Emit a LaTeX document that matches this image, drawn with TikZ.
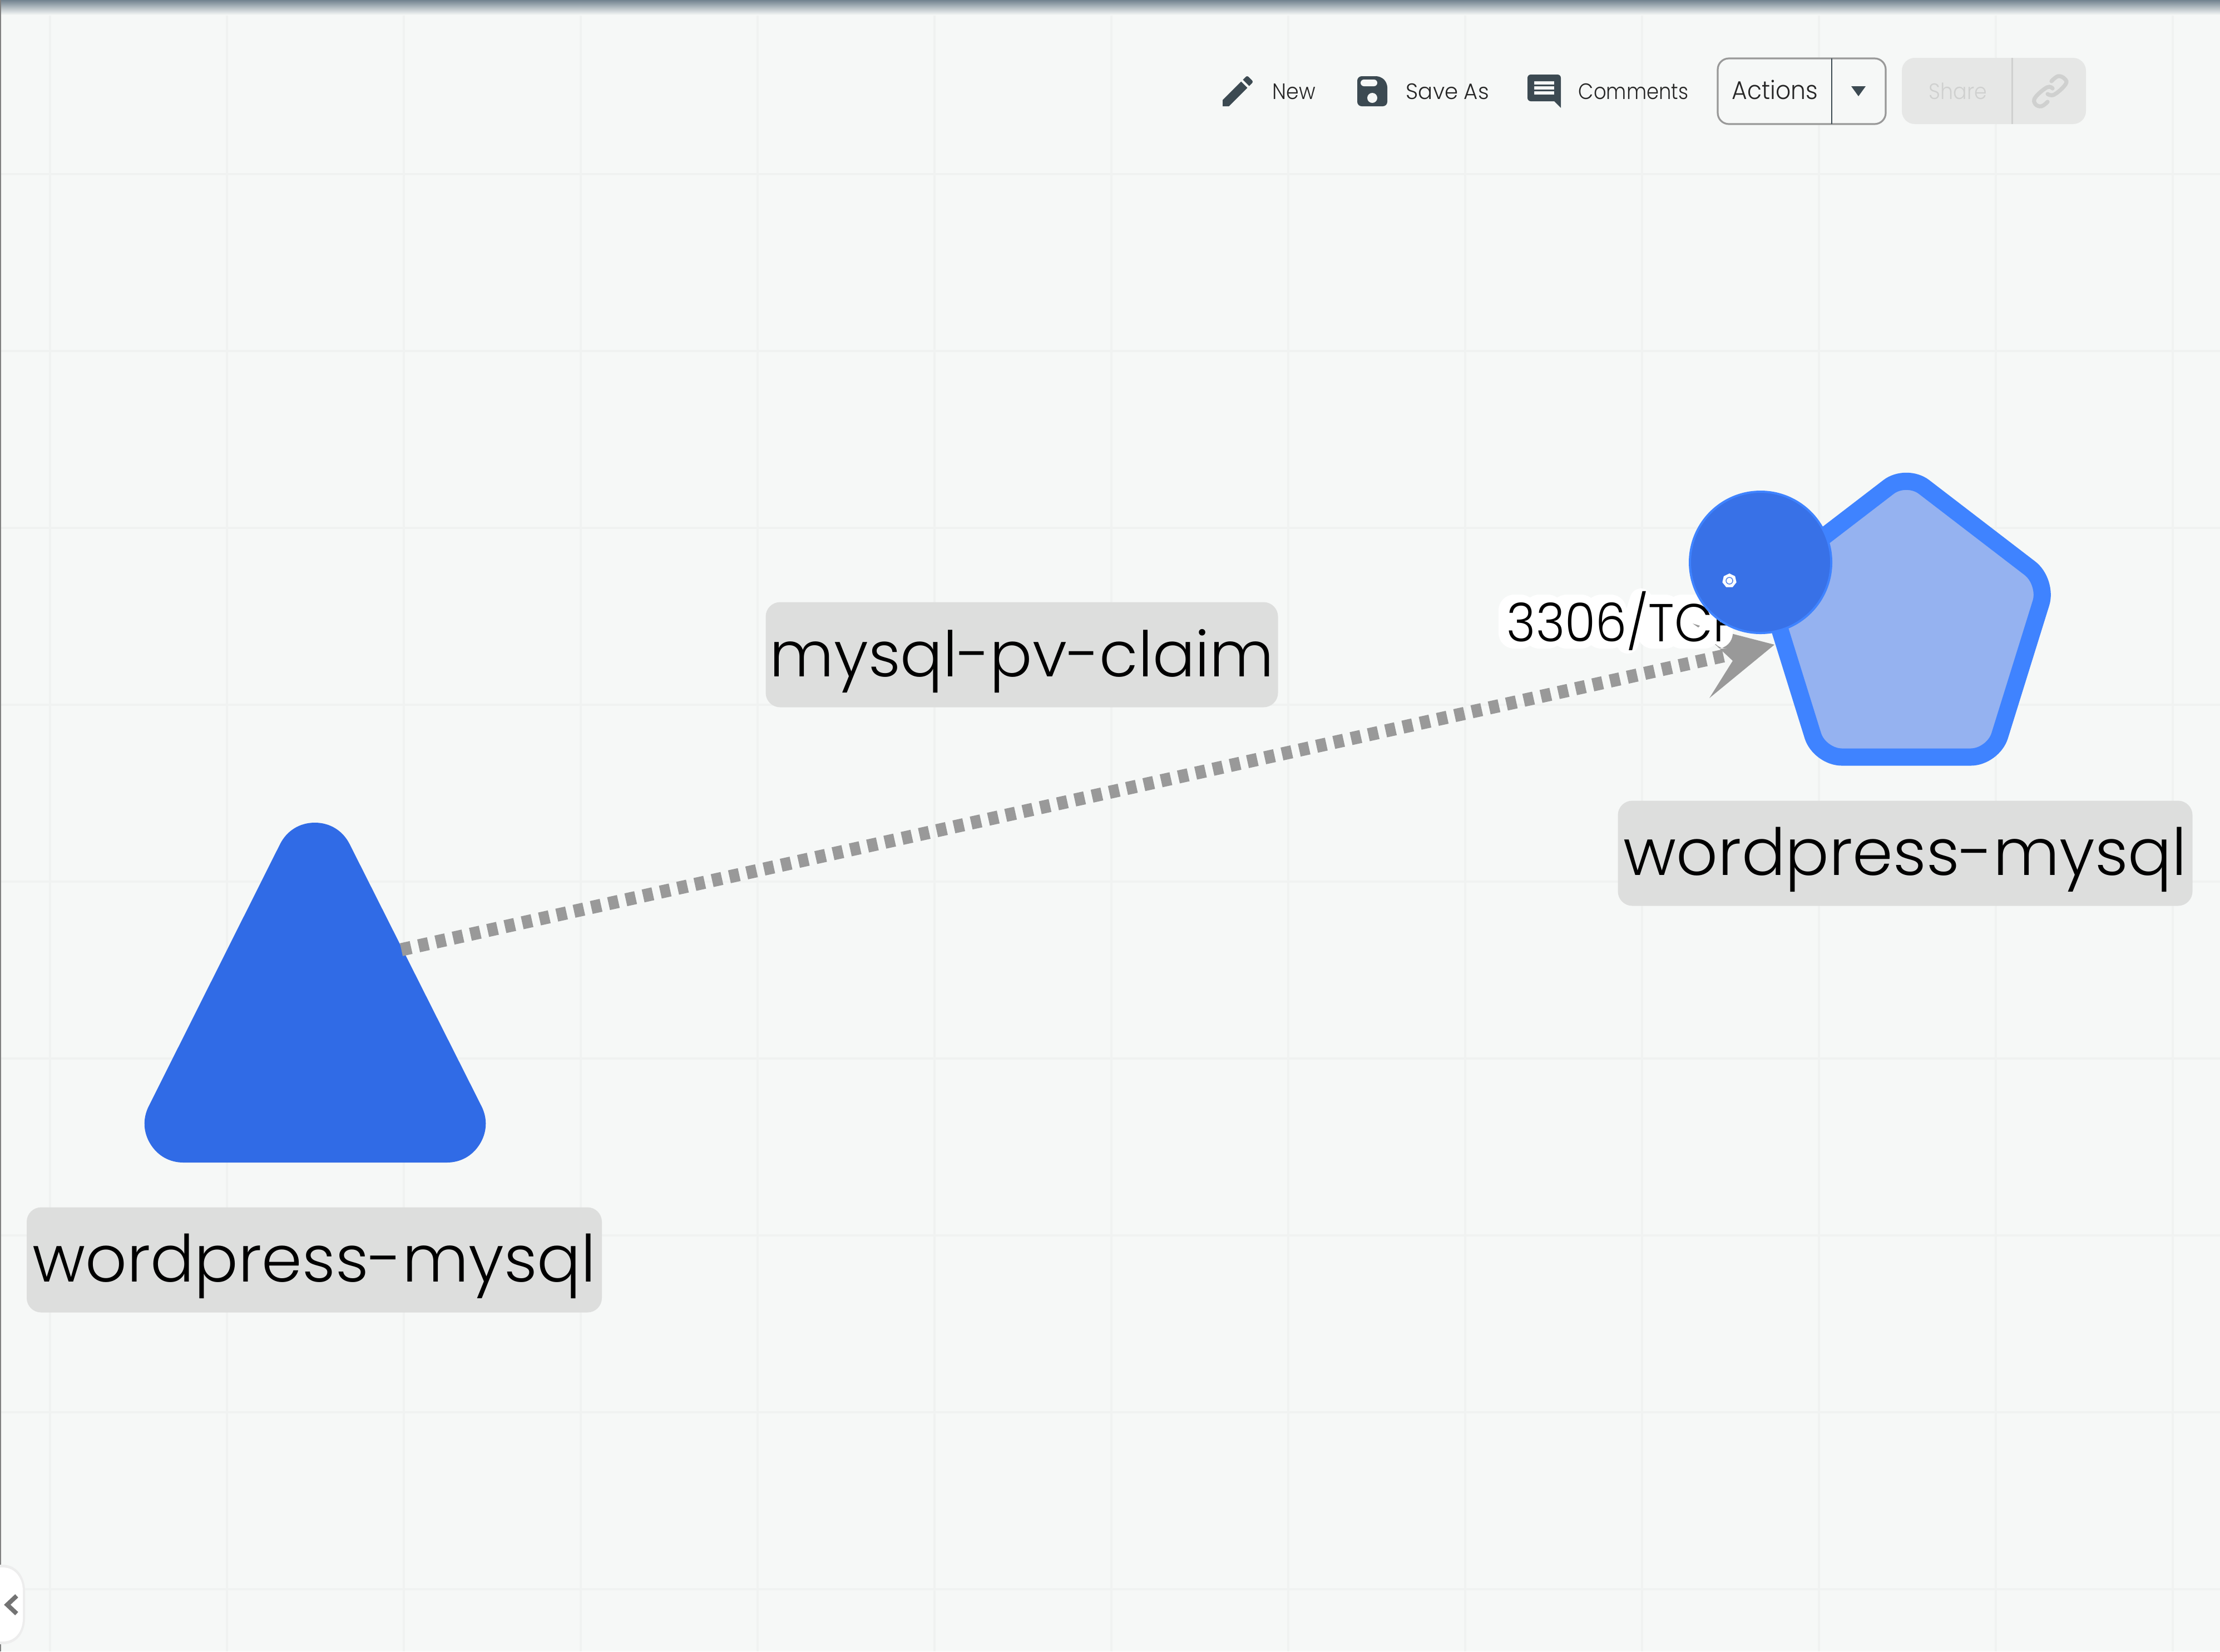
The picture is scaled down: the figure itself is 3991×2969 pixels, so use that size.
\documentclass[tikz,border=0pt]{standalone}
\usepackage{graphicx}
\usepackage{fontspec}
\setmainfont{Poppins}
\newfontfamily\thinfont{Poppins Light}
\usetikzlibrary{shapes.geometric}
\definecolor{bgc}{HTML}{F6F8F7}
\definecolor{gridc}{HTML}{F0F2F1}
\definecolor{blued}{HTML}{306BE6}
\definecolor{bluee}{HTML}{3F83FF}
\definecolor{bluef}{HTML}{95B2F0}
\definecolor{labelc}{HTML}{DDDEDD}
\definecolor{edgec}{HTML}{999999}
\definecolor{iconc}{HTML}{3C4A52}
\definecolor{disc}{HTML}{CFD0CF}
\definecolor{shadec}{HTML}{71828E}
\definecolor{sharec}{HTML}{E6E7E6}
\tikzset{
  x=0.25pt,y=-0.25pt,
  gridline/.style={gridc,line width=1pt},
  namebox/.style={fill=labelc,rounded corners=6.5pt,inner sep=0pt,text=black,text height=33.5pt,text depth=13.75pt,font=\thinfont\fontsize{29.2}{29.2}\selectfont},
  toolitem/.style={anchor=base west,inner sep=0pt,text=black!85,font=\thinfont\fontsize{10}{10}\selectfont},
  portlabel/.style={anchor=base west,inner sep=0pt,text=black,font=\thinfont\fontsize{24}{24}\selectfont},
}
\begin{document}
\begin{tikzpicture}
\useasboundingbox (0,0) rectangle (3991,2969);
\fill[bgc] (0,0) rectangle (3991,2969);
% grid
\foreach \i in {0,...,12} \draw[gridline] ({90+318*\i},0) -- ({90+318*\i},2969);
\foreach \j in {0,...,8} \draw[gridline] (0,{313+318*\j}) -- (3991,{313+318*\j});
% top shade and left edge
\shade[top color=shadec,bottom color=bgc,draw=none] (0,0) rectangle (3991,27);
\fill[gray] (0,0) rectangle (2,2969);
% toolbar icons
\begin{scope}[shift={(2189,128)},scale=3]
\fill[iconc] (3,17.25) -- (3,21) -- (6.75,21) -- (17.81,9.94) -- (14.06,6.19) -- cycle;
\fill[iconc] (20.71,7.04) .. controls (21.1,6.65) and (21.1,6.02) .. (20.71,5.63) -- (18.37,3.29) .. controls (17.98,2.9) and (17.35,2.9) .. (16.96,3.29) -- (15.13,5.12) -- (18.88,8.87) -- cycle;
\end{scope}
\fill[iconc,rounded corners=2pt] (2440,137) -- (2482,137) -- (2494,149) -- (2494,191) -- (2440,191) -- cycle;
\fill[bgc,rounded corners=1.5pt] (2446,143) rectangle (2476,155);
\fill[bgc] (2467,176) circle[radius=9];
\begin{scope}[shift={(2740,128)},scale=3]
\fill[iconc,even odd rule] (4,2) -- (20,2) .. controls (21.1,2) and (22,2.9) .. (22,4) -- (22,22) -- (18,18) -- (4,18) .. controls (2.9,18) and (2,17.1) .. (2,16) -- (2,4) .. controls (2,2.9) and (2.9,2) .. (4,2) -- cycle
  (6,6) rectangle (18,8) (6,9) rectangle (18,11) (6,12) rectangle (18,14);
\end{scope}
\node[toolitem] (tnew) at (2287,178) {\scalebox{0.91}[1]{New}};
\node[toolitem] (tsave) at (2527,178) {\scalebox{0.967}[1]{Save As}};
\node[toolitem] (tcomm) at (2837,178) {\scalebox{0.886}[1]{Comments}};
% actions button
\draw[line width=0.8pt,draw=black!40,fill=bgc,rounded corners=5pt] (3088,105) rectangle (3390,223);
\draw[iconc,line width=0.6pt] (3293,105) -- (3293,223);
\node[toolitem,font=\thinfont\fontsize{11.5}{11.5}\selectfont] (tact) at (3113,178) {\scalebox{0.924}[1]{Actions}};
\fill[iconc] (3328,155) -- (3354,155) -- (3341,173) -- cycle;
% share button
\fill[sharec,rounded corners=5.8pt] (3419,104) rectangle (3750,223);
\draw[disc,line width=0.75pt] (3617,104) -- (3617,223);
\node[toolitem,text=disc] (tshare) at (3467,178) {\scalebox{0.91}[1]{Share}};
\draw[disc,line width=1.8pt,line cap=round] plot[smooth,tension=0.7] coordinates {(3688,146) (3700,137) (3712,142) (3713,152) (3693,170) (3681,169)};
\draw[disc,line width=1.8pt,line cap=round] plot[smooth,tension=0.7] coordinates {(3690,159) (3680,157) (3659,175) (3659,187) (3670,191) (3681,183)};
% triangle
\fill[blued,draw=blued,line width=35pt,line join=round] (566,1549) -- (803,2020) -- (330,2020) -- cycle;
\node[namebox,minimum width=1034*0.25pt,minimum height=189*0.25pt] (lbA) at (565,2265) {wordpress-mysql};
% middle label
\node[namebox,minimum width=921*0.25pt,minimum height=189*0.25pt,font=\thinfont\fontsize{28.3}{28.3}\selectfont] (lbB) at (1837,1177) {mysql-pv-claim};
% pentagon
\draw[bluee,fill=bluef,line width=7.75pt,rounded corners=10pt,line join=round] (3427,851) -- (3681,1046) -- (3583,1361) -- (3271,1361) -- (3173,1046) -- cycle;
\node[namebox,minimum width=1033*0.25pt,minimum height=189*0.25pt] (lbC) at (3425,1534) {wordpress-mysql};
% edge
\coordinate (edgeA) at (721.5,1707.3);
\coordinate (edgeB) at (3098.8,1179);
\draw[edgec,line width=5.9pt,dash pattern=on 4.5pt off 3.45pt] (edgeA) -- (edgeB);
\fill[edgec] (3190,1159) -- (3073,1255) -- (3115,1188) -- (3043,1121) -- cycle;
% edge label halo
\foreach \xa/\xb in {2710/2748,2755/2797,2804/2857,2866/2910,2959/3008,3011/3078,3092/3101}
  \fill[white,rounded corners=7pt] ({\xa-16},1069) rectangle ({\xb+14},1166);
\draw[white,line width=10pt,line cap=round] (2926,1155) -- (2950,1078);
\fill[edgec] (3043,1121) -- (3056,1125) -- (3053,1128) -- cycle;
\node[portlabel] (port) at (2708,1153) {\scalebox{0.93}[1]{3306/TCP}};
% circle
\fill[blued!96!white,draw=bluee,line width=1pt] (3165,1011) circle[radius=127];
\node[regular polygon,regular polygon sides=7,fill=white,inner sep=0pt,minimum size=6.5pt] (kube) at (3109,1044) {};
\draw[blued!80!white,line width=0.4pt] (kube.center) circle[radius=6];
% collapse tab
\fill[black!7] (0,2813) -- (5,2813) .. controls (30,2813) and (45,2835) .. (45,2860) -- (45,2910) .. controls (45,2935) and (30,2956) .. (5,2956) -- (0,2956) -- cycle;
\fill[white] (0,2818) -- (5,2818) .. controls (28,2818) and (41,2838) .. (41,2860) -- (41,2910) .. controls (41,2932) and (28,2951) .. (5,2951) -- (0,2951) -- cycle;
\draw[black!55,line width=2pt] (30,2869) -- (13,2885) -- (30,2901);
\end{tikzpicture}
\end{document}
